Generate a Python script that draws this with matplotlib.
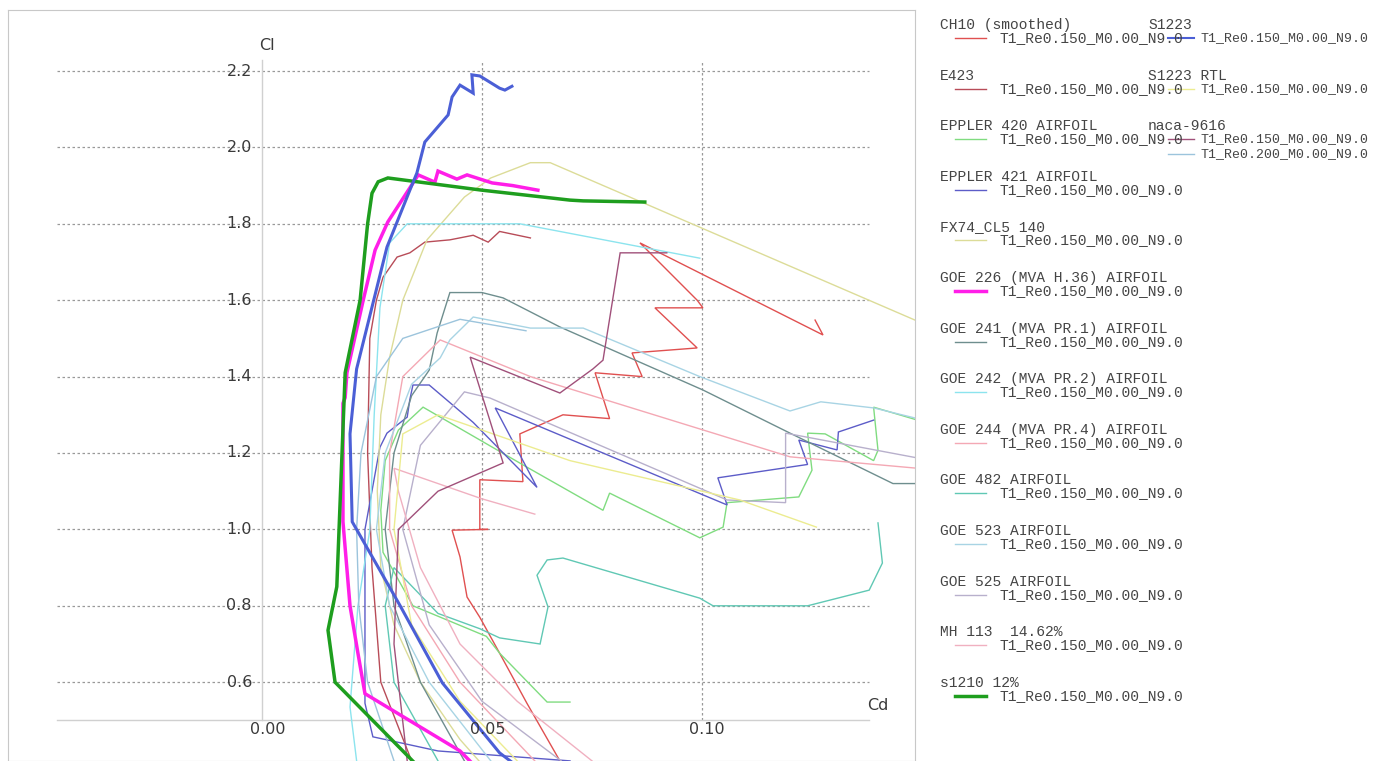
import matplotlib.pyplot as plt
from matplotlib.lines import Line2D

# polar data (Cd, Cl)
cd_s1223 = [0.058, 0.054, 0.041, 0.0314, 0.0205, 0.0200, 0.0215, 0.0250, 0.0284, 0.0336, 0.0352, 0.0370,
            0.0423, 0.0432, 0.0450, 0.0480, 0.0477, 0.0495, 0.0540, 0.0552, 0.0568]
cl_s1223 = [0.38, 0.415, 0.598, 0.800, 1.020, 1.250, 1.420, 1.582, 1.739, 1.888, 1.933, 2.014,
            2.085, 2.132, 2.163, 2.142, 2.190, 2.187, 2.155, 2.150, 2.160]

cd_goe226 = [0.048, 0.045, 0.0234, 0.0218, 0.0200, 0.0184, 0.0184, 0.0189, 0.0193, 0.0230, 0.0257, 0.0286,
             0.0336, 0.0355, 0.0393, 0.0400, 0.0443, 0.0466, 0.0523, 0.0570, 0.0627]
cl_goe226 = [0.385, 0.42, 0.570, 0.676, 0.800, 1.020, 1.330, 1.345, 1.410, 1.600, 1.731, 1.805,
             1.894, 1.928, 1.909, 1.938, 1.917, 1.928, 1.907, 1.900, 1.888]

cd_s1210 = [0.0350, 0.0166, 0.0150, 0.0170, 0.0189, 0.0223, 0.0240, 0.0250, 0.0264, 0.0286, 0.0500, 0.0700, 0.0730, 0.0870]
cl_s1210 = [0.385, 0.600, 0.736, 0.850, 1.410, 1.600, 1.800, 1.880, 1.910, 1.920, 1.888, 1.862, 1.860, 1.857]

cd_goe242 = [0.0216, 0.0200, 0.0218, 0.0245, 0.0255, 0.0268, 0.0290, 0.0330, 0.0500, 0.0586, 0.0995]
cl_goe242 = [0.385, 0.535, 0.800, 0.998, 1.300, 1.580, 1.750, 1.800, 1.800, 1.800, 1.710]

cd_fx74 = [0.0500, 0.0450, 0.0360, 0.0300, 0.0270, 0.0262, 0.0270, 0.0290, 0.0320, 0.0375, 0.0460, 0.0520,
           0.0610, 0.0655, 0.1490]
cl_fx74 = [0.385, 0.450, 0.600, 0.750, 0.900, 1.100, 1.300, 1.450, 1.600, 1.758, 1.870, 1.920,
           1.960, 1.960, 1.545]

cd_ch10 = [0.0677, 0.0602, 0.0540, 0.0495, 0.0466, 0.0450, 0.0432, 0.0514, 0.0495, 0.0495, 0.0593, 0.0586,
           0.0684, 0.0790, 0.0757, 0.0864, 0.0841, 0.0989, 0.0893, 0.1002, 0.0989, 0.0859, 0.1275, 0.1257]
cl_ch10 = [0.394, 0.545, 0.676, 0.770, 0.823, 0.928, 0.998, 1.000, 1.000, 1.130, 1.125, 1.250,
           1.300, 1.290, 1.410, 1.400, 1.462, 1.475, 1.580, 1.580, 1.600, 1.750, 1.509, 1.548]

cd_e423 = [0.0340, 0.0270, 0.0250, 0.0240, 0.0245, 0.0260, 0.0275, 0.0307, 0.0336, 0.0370, 0.0427, 0.0480,
           0.0514, 0.0540, 0.0610]
cl_e423 = [0.394, 0.600, 0.900, 1.200, 1.500, 1.600, 1.660, 1.713, 1.724, 1.752, 1.758, 1.770,
           1.752, 1.780, 1.763]

cd_e421 = [0.0700, 0.0400, 0.0252, 0.0234, 0.0234, 0.0268, 0.0284, 0.0330, 0.0336, 0.0343, 0.0380, 0.0480,
           0.0625, 0.0530, 0.1057, 0.1036, 0.1240, 0.1220, 0.1307, 0.1310, 0.1390]
cl_e421 = [0.394, 0.420, 0.457, 0.545, 1.000, 1.215, 1.252, 1.294, 1.340, 1.378, 1.378, 1.280,
           1.110, 1.318, 1.064, 1.135, 1.170, 1.234, 1.208, 1.255, 1.286]

cd_e420 = [0.0700, 0.0648, 0.0540, 0.0510, 0.0343, 0.0275, 0.0270, 0.0280, 0.0310, 0.0366, 0.0602, 0.0775,
           0.0790, 0.0995, 0.1048, 0.1057, 0.1220, 0.1250, 0.1240, 0.1280, 0.1390, 0.1400, 0.1390, 0.1490]
cl_e420 = [0.548, 0.548, 0.676, 0.720, 0.800, 0.940, 1.050, 1.180, 1.260, 1.320, 1.163, 1.050,
           1.095, 0.978, 1.006, 1.070, 1.085, 1.155, 1.252, 1.250, 1.180, 1.207, 1.320, 1.286]

cd_goe482 = [0.040, 0.030, 0.028, 0.030, 0.040, 0.0495, 0.0540, 0.0632, 0.0650, 0.0625, 0.0648, 0.0684,
             0.0995, 0.1025, 0.1240, 0.1380, 0.1410, 0.1400]
cl_goe482 = [0.394, 0.60, 0.80, 0.90, 0.78, 0.74, 0.716, 0.700, 0.797, 0.880, 0.920, 0.925,
             0.820, 0.800, 0.800, 0.841, 0.912, 1.017]

cd_goe241 = [0.046, 0.036, 0.030, 0.028, 0.030, 0.034, 0.038, 0.0398, 0.0427, 0.0500, 0.0548, 0.0677,
             0.1002, 0.1200, 0.1434, 0.1500]
cl_goe241 = [0.394, 0.60, 0.80, 1.00, 1.20, 1.35, 1.417, 1.514, 1.62, 1.62, 1.606, 1.53,
             1.365, 1.252, 1.12, 1.12]

cd_goe523 = [0.052, 0.038, 0.029, 0.026, 0.028, 0.034, 0.0405, 0.0427, 0.048, 0.061, 0.073, 0.0995,
             0.120, 0.127, 0.139, 0.149]
cl_goe523 = [0.394, 0.60, 0.80, 1.00, 1.20, 1.38, 1.449, 1.496, 1.556, 1.527, 1.527, 1.40,
             1.31, 1.334, 1.318, 1.29]

cd_goe244 = [0.062, 0.045, 0.034, 0.029, 0.029, 0.032, 0.0405, 0.061, 0.120, 0.149]
cl_goe244 = [0.394, 0.60, 0.80, 1.00, 1.20, 1.40, 1.496, 1.40, 1.19, 1.16]

cd_mh113 = [0.075, 0.058, 0.045, 0.036, 0.031, 0.030, 0.050, 0.062]
cl_mh113 = [0.394, 0.55, 0.70, 0.90, 1.10, 1.16, 1.08, 1.04]

cd_goe525 = [0.068, 0.050, 0.038, 0.032, 0.036, 0.046, 0.0518, 0.1057, 0.1190, 0.1190, 0.149]
cl_goe525 = [0.394, 0.55, 0.75, 1.00, 1.22, 1.36, 1.344, 1.077, 1.070, 1.252, 1.187]

cd_rtl = [0.058, 0.045, 0.034, 0.030, 0.032, 0.040, 0.070, 0.1086, 0.126]
cl_rtl = [0.394, 0.55, 0.75, 1.00, 1.25, 1.30, 1.18, 1.077, 1.006]

cd_naca150 = [0.033, 0.030, 0.031, 0.040, 0.0548, 0.0473, 0.0677, 0.0752, 0.0775, 0.0814, 0.0920]
cl_naca150 = [0.394, 0.70, 1.00, 1.10, 1.174, 1.451, 1.357, 1.420, 1.443, 1.724, 1.724]

cd_naca200 = [0.030, 0.024, 0.022, 0.0215, 0.0225, 0.026, 0.032, 0.045, 0.060]
cl_naca200 = [0.394, 0.60, 0.80, 1.00, 1.20, 1.40, 1.50, 1.55, 1.52]

cl_ticks = [0.6, 0.8, 1.0, 1.2, 1.4, 1.6, 1.8, 2.0, 2.2]
cd_ticks = [0.00, 0.05, 0.10]

# name, polar, cd, cl, colour, width
series = [
    ("CH10 (smoothed)", "T1_Re0.150_M0.00_N9.0", cd_ch10, cl_ch10, "#e05050", 1.0),
    ("E423", "T1_Re0.150_M0.00_N9.0", cd_e423, cl_e423, "#b84c58", 1.0),
    ("EPPLER 420 AIRFOIL", "T1_Re0.150_M0.00_N9.0", cd_e420, cl_e420, "#80dc80", 1.0),
    ("EPPLER 421 AIRFOIL", "T1_Re0.150_M0.00_N9.0", cd_e421, cl_e421, "#5c5cc8", 1.0),
    ("FX74_CL5 140", "T1_Re0.150_M0.00_N9.0", cd_fx74, cl_fx74, "#dcdc98", 1.0),
    ("GOE 226 (MVA H.36) AIRFOIL", "T1_Re0.150_M0.00_N9.0", cd_goe226, cl_goe226, "#ff1ee8", 2.5),
    ("GOE 241 (MVA PR.1) AIRFOIL", "T1_Re0.150_M0.00_N9.0", cd_goe241, cl_goe241, "#6e8e8e", 1.0),
    ("GOE 242 (MVA PR.2) AIRFOIL", "T1_Re0.150_M0.00_N9.0", cd_goe242, cl_goe242, "#8ce4ee", 1.0),
    ("GOE 244 (MVA PR.4) AIRFOIL", "T1_Re0.150_M0.00_N9.0", cd_goe244, cl_goe244, "#f4a8b4", 1.0),
    ("GOE 482 AIRFOIL", "T1_Re0.150_M0.00_N9.0", cd_goe482, cl_goe482, "#60c8b4", 1.0),
    ("GOE 523 AIRFOIL", "T1_Re0.150_M0.00_N9.0", cd_goe523, cl_goe523, "#a8d4e4", 1.0),
    ("GOE 525 AIRFOIL", "T1_Re0.150_M0.00_N9.0", cd_goe525, cl_goe525, "#b8b0cc", 1.0),
    ("MH 113  14.62%", "T1_Re0.150_M0.00_N9.0", cd_mh113, cl_mh113, "#f0b0c0", 1.0),
    ("s1210 12%", "T1_Re0.150_M0.00_N9.0", cd_s1210, cl_s1210, "#1e9e1e", 2.5),
]
series2 = [
    ("S1223", "T1_Re0.150_M0.00_N9.0", cd_s1223, cl_s1223, "#4b5fd6", 2.2),
    ("S1223 RTL", "T1_Re0.150_M0.00_N9.0", cd_rtl, cl_rtl, "#ecec90", 1.0),
    ("naca-9616", "T1_Re0.150_M0.00_N9.0", cd_naca150, cl_naca150, "#a0507a", 1.0),
    ("", "T1_Re0.200_M0.00_N9.0", cd_naca200, cl_naca200, "#9cc4dc", 1.0),
]

W, H = 1374, 761
fig = plt.figure(figsize=(W / 100, H / 100), dpi=100)
ax = fig.add_axes([8 / W, 0, 907 / W, 751 / H])
ax.set_xlim(-0.05773, 0.14841)
ax.set_ylim(0.3937, 2.3597)
ax.set_xticks([])
ax.set_yticks([])
for s in ax.spines.values():
    s.set_color("#c8c8c8")

gx0, gx1 = -0.0466, 0.138
grid_kw = dict(color="#999999", lw=0.9, ls=(0, (2, 2)), zorder=1)
for c in cl_ticks:
    ax.plot([gx0, gx1], [c, c], **grid_kw)
for c in cd_ticks[1:]:
    ax.plot([c, c], [0.5, 2.229], **grid_kw)
ax.plot([0, 0], [0.5, 2.229], color="#d0d0d0", lw=1, zorder=1)
ax.plot([gx0, gx1], [0.5, 0.5], color="#d0d0d0", lw=1, zorder=1)

lab_kw = dict(color="#3a3a3a", fontsize=11.5, zorder=5)
for c in cl_ticks:
    ax.text(-0.0023, c, f"{c:.1f}", ha="right", va="center", **lab_kw)
for c in cd_ticks:
    ax.text(c + 0.0012, 0.475, f"{c:.2f}", ha="center", va="center", **lab_kw)
ax.text(0.0011, 2.268, "Cl", ha="center", va="center", **lab_kw)
ax.text(0.140, 0.54, "Cd", ha="center", va="center", **lab_kw)

for name, pol, cd, cl, col, lw in series + series2:
    ax.plot(cd, cl, color=col, lw=lw, zorder=4 if lw > 2 else 3, solid_joinstyle="miter")

# legend, drawn in figure pixels
mono = ["Liberation Mono", "DejaVu Sans Mono"]
txt_kw = dict(family=mono, fontsize=10.5, color="#454545", va="center")
step = 50.6
for i, (name, pol, cd, cl, col, lw) in enumerate(series):
    y = 25 + step * i
    fig.text(940 / W, 1 - y / H, name, **txt_kw)
    fig.text(1000 / W, 1 - (y + 13) / H, pol, **txt_kw)
    fig.add_artist(Line2D([955 / W, 986 / W], [1 - (y + 13) / H] * 2, color=col, lw=lw,
                          transform=fig.transFigure))

# second legend column, polar text a bit smaller so it stays inside the picture
txt2_kw = dict(txt_kw, fontsize=9.5)
row_y = [25, 25 + step, 25 + 2 * step, 25 + 2 * step + 15]
for (name, pol, cd, cl, col, lw), y in zip(series2, row_y):
    if name:
        fig.text(1148 / W, 1 - y / H, name, **txt_kw)
    yl = y + 13
    fig.text(1200 / W, 1 - yl / H, pol, **txt2_kw)
    fig.add_artist(Line2D([1168 / W, 1194 / W], [1 - yl / H] * 2, color=col, lw=min(lw, 1.5),
                          transform=fig.transFigure))

fig.savefig("out.png", dpi=100)
